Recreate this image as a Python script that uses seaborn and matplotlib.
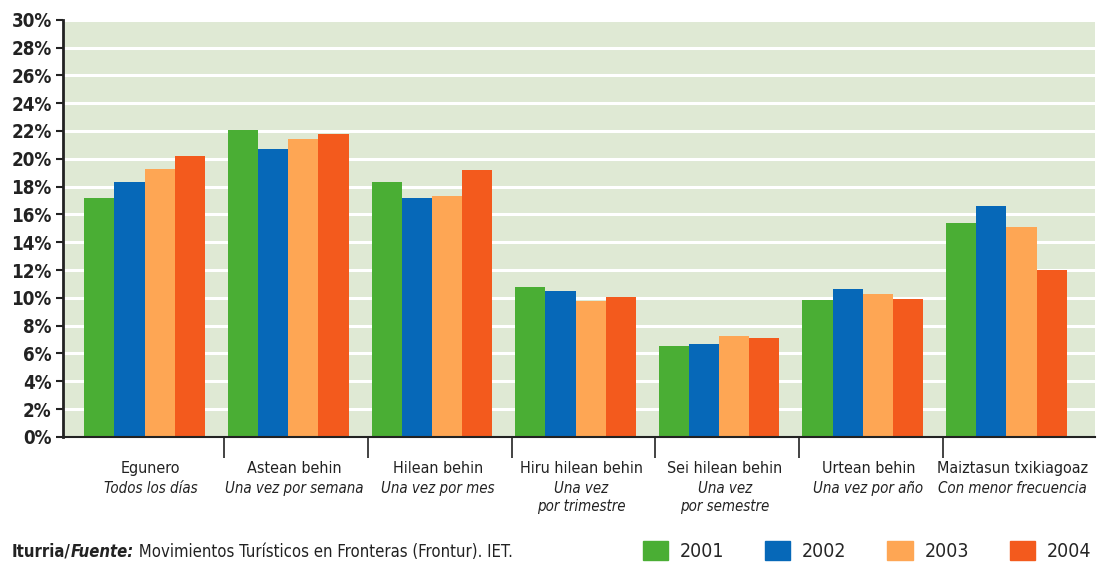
import pandas as pd
import numpy as np
import matplotlib.pyplot as plt
import matplotlib.patches as mpatches
from matplotlib.transforms import blended_transform_factory
import seaborn as sns

colors = ["#4aae34", "#0668b8", "#fea654", "#f35a1d"]
sns.set_theme(style="ticks")
plt.rcParams["font.family"] = ["DejaVu Sans"]
plt.rcParams["font.stretch"] = "condensed"

categorias = ["Egunero", "Astean behin", "Hilean behin", "Hiru hilean behin",
              "Sei hilean behin", "Urtean behin", "Maiztasun txikiagoaz"]
subtitulos = ["Todos los días", "Una vez por semana", "Una vez por mes",
              "Una vez\npor trimestre", "Una vez\npor semestre",
              "Una vez por año", "Con menor frecuencia"]
anos = ["2001", "2002", "2003", "2004"]
v2001 = [17.2, 22.1, 18.3, 10.8, 6.5, 9.85, 15.4]
v2002 = [18.3, 20.7, 17.2, 10.5, 6.7, 10.6, 16.6]
v2003 = [19.3, 21.4, 17.3, 9.75, 7.25, 10.3, 15.1]
v2004 = [20.2, 21.8, 19.2, 10.05, 7.1, 9.9, 12.0]
y_ticks = list(range(0, 31, 2))

df = pd.DataFrame({
    "categoria": categorias * 4,
    "ano": np.repeat(anos, len(categorias)),
    "valor": v2001 + v2002 + v2003 + v2004,
})

fig = plt.figure(figsize=(11.01, 5.63), dpi=100)
ax = fig.add_axes([0.057, 0.224, 0.938, 0.741])
ax.set_facecolor("#dfe9d4")

sns.barplot(data=df, x="categoria", y="valor", hue="ano", palette=colors,
            saturation=1, width=0.84, ax=ax, legend=False, linewidth=0)

ax.set_ylim(0, 30)
ax.set_xlim(-0.57, 6.62)
ax.set_yticks(y_ticks)
ax.set_yticklabels([f"{t}%" for t in y_ticks], fontsize=13.5, fontweight="bold",
                   color="#222222")
ax.grid(axis="y", color="white", linewidth=2.2)
ax.set_axisbelow(True)

# separadores de grupo
ax.set_xticks([i + 0.555 for i in range(len(categorias) - 1)])
ax.set_xticklabels([])
ax.tick_params(axis="x", length=15, width=1.2, color="#222222")
ax.tick_params(axis="y", length=5, width=1.5, color="#222222", pad=3)

for s in ["top", "right"]:
    ax.spines[s].set_visible(False)
ax.spines["left"].set_linewidth(2)
ax.spines["left"].set_color("#222222")
ax.spines["bottom"].set_linewidth(1.5)
ax.spines["bottom"].set_color("#222222")
ax.set_xlabel("")
ax.set_ylabel("")

trans = blended_transform_factory(ax.transData, ax.transAxes)
for i, (cat, sub) in enumerate(zip(categorias, subtitulos)):
    ax.text(i + 0.04, -0.057, cat, transform=trans, ha="center", va="top",
            fontsize=11.5, color="#222222")
    ax.text(i + 0.04, -0.105, sub, transform=trans, ha="center", va="top",
            fontsize=10.8, style="italic", color="#222222", linespacing=1.25)

# leyenda
handles = [mpatches.Patch(color=c, label=a) for c, a in zip(colors, anos)]
fig.legend(handles=handles, loc="lower right", bbox_to_anchor=(1.007, -0.028),
           ncol=4, frameon=False, fontsize=14, handlelength=1.3,
           handleheight=1.1, columnspacing=2.1, handletextpad=0.6)

# fuente
fig.canvas.draw()
r = fig.canvas.get_renderer()
x0 = 0.011
partes = [("Iturria/", "bold", "normal"), ("Fuente:", "bold", "italic"),
          (" Movimientos Turísticos en Fronteras (Frontur). IET.", "normal", "normal")]
for txt, peso, estilo in partes:
    t = fig.text(x0, 0.004, txt, fontsize=12, fontweight=peso, style=estilo,
                 color="#222222", va="bottom")
    bb = t.get_window_extent(renderer=r)
    x0 += bb.width / fig.bbox.width

fig.savefig("out.png", dpi=100)
